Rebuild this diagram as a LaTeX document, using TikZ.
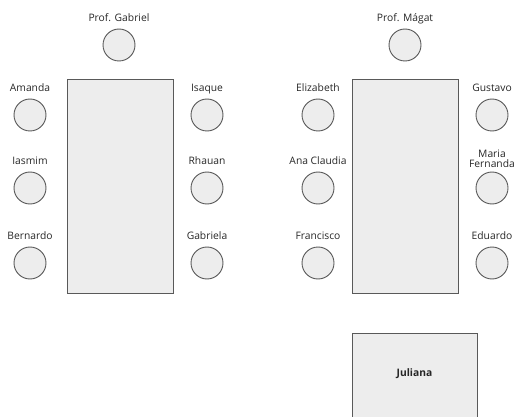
\documentclass[tikz,border=0pt]{standalone}
\usepackage{fontspec}
\setmainfont{Open Sans}
\usetikzlibrary{positioning}

\begin{document}
\begin{tikzpicture}[
      x=1pt, y=-1pt,
      font=\fontsize{10.3}{11}\selectfont,
      desk/.style={draw=black!65, fill=black!7, line width=1pt,
                   minimum width=106pt, minimum height=213pt, inner sep=0pt},
      seat/.style={circle, draw=black!65, fill=black!7, line width=0.9pt,
                   minimum size=32pt, inner sep=0pt},
      who/.style={inner sep=0pt, align=center, text=black!85}
    ]
    \useasboundingbox (0,0) rectangle (517,417);
    % left table
    \node[desk] (deskA) at (120,186.5) {};
    \node[seat] (gabriel) at (119,45) {};
    \node[seat] (amanda) at (30,115) {};
    \node[seat] (iasmim) at (30,188) {};
    \node[seat] (bernardo) at (30,263) {};
    \node[seat] (isaque) at (207,115) {};
    \node[seat] (rhauan) at (207,188) {};
    \node[seat] (gabriela) at (207,263) {};
    \node[who, above=7pt of gabriel.north, anchor=base] (gabrielL) {Prof. Gabriel};
    \node[who, above=7pt of amanda.north, anchor=base] (amandaL) {Amanda};
    \node[who, above=7pt of iasmim.north, anchor=base] (iasmimL) {Iasmim};
    \node[who, above=7pt of bernardo.north, anchor=base] (bernardoL) {Bernardo};
    \node[who, above=7pt of isaque.north, anchor=base] (isaqueL) {Isaque};
    \node[who, above=7pt of rhauan.north, anchor=base] (rhauanL) {Rhauan};
    \node[who, above=7pt of gabriela.north, anchor=base] (gabrielaL) {Gabriela};
    % right table
    \node[desk] (deskB) at (405,186.5) {};
    \node[seat] (magat) at (405,45) {};
    \node[seat] (elizabeth) at (318,115) {};
    \node[seat] (anaclaudia) at (318,188) {};
    \node[seat] (francisco) at (318,263) {};
    \node[seat] (gustavo) at (492,115) {};
    \node[seat] (mariafernanda) at (492,188) {};
    \node[seat] (eduardo) at (492,263) {};
    \node[who, above=7pt of magat.north, anchor=base] (magatL) {Prof. Mágat};
    \node[who, above=7pt of elizabeth.north, anchor=base] (elizabethL) {Elizabeth};
    \node[who, above=7pt of anaclaudia.north, anchor=base] (anaclaudiaL) {Ana Claudia};
    \node[who, above=7pt of francisco.north, anchor=base] (franciscoL) {Francisco};
    \node[who, above=7pt of gustavo.north, anchor=base] (gustavoL) {Gustavo};
    \node[who, above=4pt of mariafernanda] (mariafernandaL) {Maria\\[-1pt]Fernanda};
    \node[who, above=7pt of eduardo.north, anchor=base] (eduardoL) {Eduardo};
    % teacher's desk, runs off the bottom
    \node[desk, minimum width=125pt, minimum height=110pt, anchor=north] (deskC) at (414.5,333) {};
    \node[who, font=\fontsize{10.3}{11}\selectfont\bfseries, below=35pt of deskC.north] (juliana) {Juliana};
  \end{tikzpicture}
\end{document}
